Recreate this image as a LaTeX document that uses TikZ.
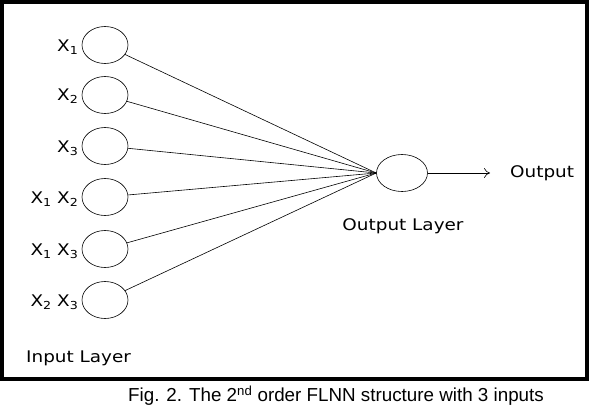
\documentclass[tikz,border=0pt]{standalone}
\usepackage{fontspec}
\setmainfont{DejaVu Sans}[FakeStretch=1.15]
\newfontfamily\capfont{Liberation Sans}
\usetikzlibrary{shapes.geometric,arrows.meta}
\newcommand{\xs}[1]{X\raisebox{-0.3ex}{\fontsize{11}{11}\selectfont #1}}
\begin{document}
\begin{tikzpicture}[x=1pt,y=-1pt,
  neuron/.style={ellipse,draw,line width=0.6pt,minimum width=46pt,minimum height=37pt,inner sep=0pt},
  lab/.style={anchor=east,inner sep=0pt,font=\fontsize{16}{16}\selectfont},
  conn/.style={line width=0.6pt},
  txt/.style={inner sep=0pt,font=\fontsize{16}{16}\selectfont}]
\useasboundingbox (0,0) rectangle (592,410);
\draw[line width=4pt] (2,2) rectangle (587,379);
\node[neuron] (i1) at (105,45) {};
\node[neuron] (i2) at (105,95) {};
\node[neuron] (i3) at (105,146) {};
\node[neuron] (i4) at (105,197) {};
\node[neuron] (i5) at (105,249) {};
\node[neuron] (i6) at (105,300) {};
\node[neuron,minimum width=51pt] (o) at (402,173) {};
\node[lab] (l1) at (78,47) {\xs{1}};
\node[lab] (l2) at (78,96) {\xs{2}};
\node[lab] (l3) at (78,148) {\xs{3}};
\node[lab] (l4) at (78,199) {\xs{1} \xs{2}};
\node[lab] (l5) at (78,251) {\xs{1} \xs{3}};
\node[lab] (l6) at (78,302) {\xs{2} \xs{3}};
\foreach \i in {1,...,6} \draw[conn] (i\i) -- (o.west);
\coordinate (arr) at (490,173);
\draw[conn,-{To[length=6pt,width=10pt]}] (o) -- (arr);
\node[txt,anchor=west] (outt) at (510,173) {Output};
\node[txt] (outl) at (403,226) {Output Layer};
\node[txt,anchor=west] (inl) at (26,358) {Input Layer};
\node[inner sep=0pt,font=\capfont\fontsize{18.8}{18.8}\selectfont] (cap) at (336,396) {Fig. 2. The 2\textsuperscript{nd} order FLNN structure with 3 inputs};
\end{tikzpicture}
\end{document}
